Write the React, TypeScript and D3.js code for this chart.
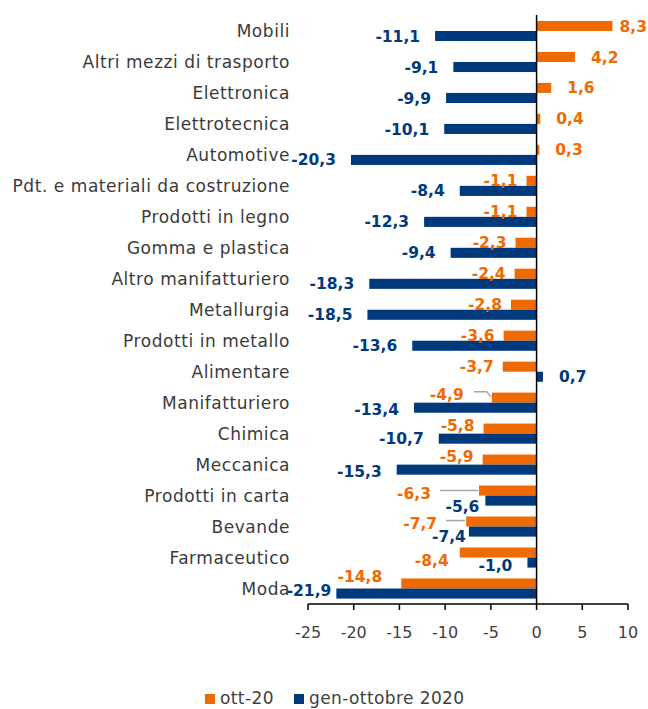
import React, { useEffect, useRef } from "react";
import * as d3 from "d3";

const categories = [
  "Mobili",
  "Altri mezzi di trasporto",
  "Elettronica",
  "Elettrotecnica",
  "Automotive",
  "Pdt. e materiali da costruzione",
  "Prodotti in legno",
  "Gomma e plastica",
  "Altro manifatturiero",
  "Metallurgia",
  "Prodotti in metallo",
  "Alimentare",
  "Manifatturiero",
  "Chimica",
  "Meccanica",
  "Prodotti in carta",
  "Bevande",
  "Farmaceutico",
  "Moda",
];
const ott20 = [8.3, 4.2, 1.6, 0.4, 0.3, -1.1, -1.1, -2.3, -2.4, -2.8, -3.6, -3.7, -4.9, -5.8, -5.9, -6.3, -7.7, -8.4, -14.8];
const genOtt2020 = [-11.1, -9.1, -9.9, -10.1, -20.3, -8.4, -12.3, -9.4, -18.3, -18.5, -13.6, 0.7, -13.4, -10.7, -15.3, -5.6, -7.4, -1.0, -21.9];
const xTicks = [-25, -20, -15, -10, -5, 0, 5, 10];
const seriesNames = ["ott-20", "gen-ottobre 2020"];

const ORANGE = "#EF6A00";
const BLUE = "#003A7C";

// label nudges (px) for the labels that were moved by hand in the original
const nudges: Record<string, { o?: [number, number]; b?: [number, number] }> = {
  Mobili: { o: [-9, 0] },
  Manifatturiero: { o: [-19, -3], b: [0, 2] },
  Chimica: { o: [0, -3] },
  Meccanica: { o: [0, -3], b: [0, 2] },
  "Prodotti in carta": { o: [-39, 3], b: [9, 6] },
  Bevande: { o: [-20, 2], b: [12, 5] },
  Farmaceutico: { o: [-2, 8], b: [0, 3] },
  Moda: { o: [-10, -7], b: [10, -3] },
};
const leaders = ["Manifatturiero", "Prodotti in carta", "Bevande"];

const fmt = (v: number) => d3.format(".1f")(v).replace(".", ",").replace("−", "-");

export default function App() {
  const ref = useRef<SVGSVGElement>(null);

  useEffect(() => {
    const svg = d3.select(ref.current);
    svg.selectAll("*").remove();

    const x = d3.scaleLinear().domain([-25, 10]).range([308, 628]);
    const y = d3.scaleBand().domain(categories).range([15.5, 604]).paddingInner(0.35).paddingOuter(0.175);
    const bw = y.bandwidth() / 2;
    const axisY = 604;

    const rows = categories.map((c, i) => ({ c, o: ott20[i], b: genOtt2020[i] }));

    // bars
    const g = svg.append("g");
    g.selectAll("rect.o")
      .data(rows)
      .join("rect")
      .attr("x", (d) => x(Math.min(0, d.o)))
      .attr("y", (d) => y(d.c)!)
      .attr("width", (d) => Math.abs(x(d.o) - x(0)))
      .attr("height", bw)
      .attr("fill", ORANGE);
    g.selectAll("rect.b")
      .data(rows)
      .join("rect")
      .attr("x", (d) => x(Math.min(0, d.b)))
      .attr("y", (d) => y(d.c)! + bw)
      .attr("width", (d) => Math.abs(x(d.b) - x(0)))
      .attr("height", bw)
      .attr("fill", BLUE);

    // zero line
    svg.append("line")
      .attr("x1", x(0)).attr("x2", x(0))
      .attr("y1", 15).attr("y2", axisY)
      .attr("stroke", "#000").attr("stroke-width", 1.5);

    // x axis
    const ax = svg.append("g");
    ax.append("line")
      .attr("x1", x(-25)).attr("x2", x(10))
      .attr("y1", axisY).attr("y2", axisY)
      .attr("stroke", "#000").attr("stroke-width", 1.5);
    ax.selectAll("line.t")
      .data(xTicks)
      .join("line")
      .attr("x1", (d) => x(d)).attr("x2", (d) => x(d))
      .attr("y1", axisY).attr("y2", axisY + 6)
      .attr("stroke", "#000").attr("stroke-width", 1.5);
    ax.selectAll("text")
      .data(xTicks)
      .join("text")
      .attr("x", (d) => x(d))
      .attr("y", 632)
      .attr("dy", "0.36em")
      .attr("text-anchor", "middle")
      .attr("font-family", "DejaVu Sans")
      .attr("font-size", 16)
      .attr("fill", "#404040")
      .text((d) => String(d));

    // category labels
    svg.append("g")
      .selectAll("text")
      .data(categories)
      .join("text")
      .attr("x", 290)
      .attr("y", (d) => y(d)! + y.bandwidth() / 2)
      .attr("dy", "0.36em")
      .attr("text-anchor", "end")
      .attr("font-family", "DejaVu Sans")
      .attr("font-size", 17)
      .attr("letter-spacing", 0.55)
      .attr("fill", "#3a3a3a")
      .text((d) => d);

    // value labels
    const labelPos = (d: typeof rows[number], key: "o" | "b") => {
      const v = d[key];
      const n = nudges[d.c]?.[key] ?? [0, 0];
      const gap = v >= 0 ? 16 : key === "o" ? 9 : 15;
      const lx = v >= 0 ? x(v) + gap : x(v) - gap;
      const ly = y(d.c)! + (key === "o" ? bw / 2 : bw * 1.5);
      return { lx: lx + n[0], ly: ly + n[1], anchor: v >= 0 ? "start" : "end" };
    };
    (["o", "b"] as const).forEach((key) => {
      svg.append("g")
        .selectAll("text")
        .data(rows)
        .join("text")
        .attr("x", (d) => labelPos(d, key).lx)
        .attr("y", (d) => labelPos(d, key).ly)
        .attr("dy", "0.36em")
        .attr("text-anchor", (d) => labelPos(d, key).anchor)
        .attr("font-family", "DejaVu Sans")
        .attr("font-weight", "bold")
        .attr("font-size", 15.5)
        .attr("fill", key === "o" ? ORANGE : BLUE)
        .text((d) => fmt(d[key]));
    });

    // leader lines for the moved orange labels
    rows.filter((d) => leaders.includes(d.c)).forEach((d) => {
      const p = labelPos(d, "o");
      const ly = p.ly - 3;
      const pts: [number, number][] = d.c === "Manifatturiero"
        ? [[p.lx + 10, ly], [x(d.o) - 5, ly], [x(d.o) - 1, y(d.c)! + 4]]
        : [[p.lx + 9, ly], [x(d.o) - 1, ly]];
      svg.append("path")
        .attr("d", d3.line()(pts))
        .attr("fill", "none")
        .attr("stroke", "#a6a6a6")
        .attr("stroke-width", 1.5);
    });

    // legend
    const lg = svg.append("g").attr("font-family", "DejaVu Sans").attr("font-size", 17).attr("fill", "#404040");
    const legendX = [205, 294];
    seriesNames.forEach((name, i) => {
      lg.append("rect")
        .attr("x", legendX[i]).attr("y", 694)
        .attr("width", 10).attr("height", 10)
        .attr("fill", i === 0 ? ORANGE : BLUE);
      lg.append("text")
        .attr("x", legendX[i] + 15)
        .attr("y", 704)
        .attr("letter-spacing", 0.4)
        .text(name);
    });
  }, []);

  return (
    <svg
      ref={ref}
      width={648}
      height={709}
      style={{ position: "absolute", left: 0, top: 0, background: "#fff" }}
    />
  );
}
